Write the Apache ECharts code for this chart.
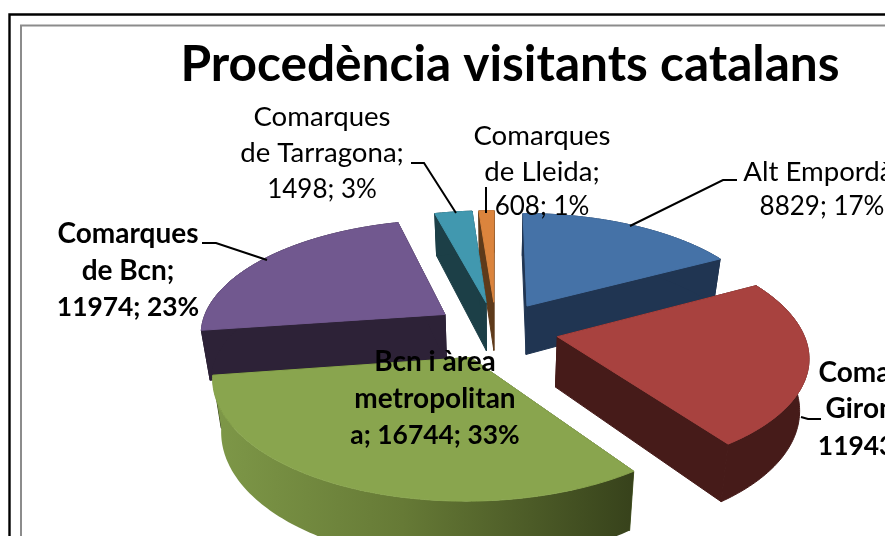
<!DOCTYPE html>
<html><head><meta charset="utf-8">
<style>html,body{margin:0;padding:0;background:#fff}#c{width:885px;height:536px}</style>
<script src="https://cdn.jsdelivr.net/npm/echarts@6/dist/echarts.min.js"></script>
</head><body><div id="c"></div>
<script>
const categories = ['Alt Empordà','Comarques Girona','Bcn i àrea metropolitana','Comarques de Bcn','Comarques de Tarragona','Comarques de Lleida'];
const values = [8829,11943,16744,11974,1498,608];
const percents = [17,23,33,23,3,1];
const labelLines = [
  ['Alt Empordà;','8829; 17%'],
  ['Comarques','Girona;','11943; 23%'],
  ['Bcn i àrea','metropolitan','a; 16744; 33%'],
  ['Comarques','de Bcn;','11974; 23%'],
  ['Comarques','de Tarragona;','1498; 3%'],
  ['Comarques','de Lleida;','608; 1%']
];
const titleText = 'Procedència visitants catalans';

// Styling and layout of the 3D look
const topColors  = ['#4572A7','#A8423F','#89A54E','#71588F','#4198AF','#DB843D'];
const sideColors = ['#203552','#461B19','#4a5a28','#2D2237','#1C3F47','#5E3A1A'];
const drawOrder = [5,4,0,3,1,2];
const boldLabel = [false,true,true,true,false,false];
const labelPos = [
  {x:[822,822],y:[172,207]},
  {x:[889,871,889],y:[373,409,446]},
  {x:[435,435,435],y:[362,399,435]},
  {x:[128,128,128],y:[234,271,307]},
  {x:[322,322,322],y:[117,153,190]},
  {x:[542,542,542],y:[136,172,207]}
];
const leaders = [
  [[737,180],[723,180],[630,226]],
  [[821,419],[808,419],[801,417]],
  null,
  [[202,243],[216,243],[267,260]],
  [[411,163],[424,163],[456,213]],
  [[486,187],[486,213]]
];
const CX=496, CY=330, A=245, B=113, P=0.15, DEPTH=50, SHRINK=0.97, EXPLODE=0.255;
const total = values.reduce((a,b)=>a+b,0);

function project(X,Y,down){
  const s=1/(1-P*Y);
  let x=CX+A*X*s, y=CY+B*Y*s;
  if(down){ x=CX+(x-CX)*SHRINK; y+=DEPTH*s; }
  return [x,y];
}
function sliceAngles(i){
  let before=0; for(let k=0;k<i;k++) before+=values[k];
  return [before/total*Math.PI*2,(before+values[i])/total*Math.PI*2];
}
function renderSlice(params,api){
  const i=api.value(0);
  const [a0,a1]=sliceAngles(i);
  const mid=(a0+a1)/2;
  const ox=Math.sin(mid)*EXPLODE, oy=-Math.cos(mid)*EXPLODE;
  const pt=(t,down)=>project(ox+Math.sin(t),oy-Math.cos(t),down);
  const apexT=project(ox,oy,false), apexB=project(ox,oy,true);
  const n=Math.max(4,Math.ceil((a1-a0)/(Math.PI/180)));
  const arcT=[],arcB=[];
  for(let k=0;k<=n;k++){const t=a0+(a1-a0)*k/n;arcT.push(pt(t,false));arcB.push(pt(t,true));}
  const side=sideColors[i];
  let outerFill=side;
  if(i===2){
    outerFill=new echarts.graphic.LinearGradient(0,0,1,0,[
      {offset:0,color:'#7E9848'},{offset:0.45,color:'#667A36'},{offset:1,color:'#37421B'}]);
  }
  const poly=(points,fill,stroke)=>({type:'polygon',shape:{points},
    style:stroke?{fill,stroke,lineWidth:1}:{fill}});
  const radial=i===2?'#37421B':side;
  return {type:'group',children:[
    poly([apexT,arcT[0],arcB[0],apexB],side,side),
    poly([apexT,arcT[n],arcB[n],apexB],radial,radial),
    poly(arcT.concat(arcB.slice().reverse()),outerFill,i===2?null:side),
    poly([apexT].concat(arcT),topColors[i],topColors[i])
  ]};
}
function renderLabel(params,api){
  const i=api.value(0);
  const kids=[];
  if(leaders[i]) kids.push({type:'polyline',shape:{points:leaders[i]},style:{stroke:'#000',lineWidth:2,fill:null}});
  labelLines[i].forEach((t,l)=>{
    const hasNum=/[0-9]/.test(t);
    const font=boldLabel[i]?('bold '+(hasNum?'26.4px':'28px')+' Lato'):((hasNum?'26px':'27.6px')+' Lato');
    kids.push({type:'text',style:{text:t,x:labelPos[i].x[l],y:labelPos[i].y[l],align:'center',verticalAlign:'middle',font,fill:'#000'}});
  });
  return {type:'group',children:kids};
}
const chart=echarts.init(document.getElementById('c'),null,{renderer:'canvas'});
chart.setOption({
  animation:false,
  backgroundColor:'#fff',
  title:{text:titleText,left:505,top:60,textAlign:'center',textVerticalAlign:'middle',
    textStyle:{fontFamily:'Lato',fontWeight:'bold',fontSize:49.6,color:'#000'}},
  graphic:[
    {type:'rect',shape:{x:9.5,y:14.5,width:1200,height:1000},style:{fill:null,stroke:'#000',lineWidth:2.4},silent:true},
    {type:'rect',shape:{x:21,y:25.5,width:1200,height:1000},style:{fill:null,stroke:'#8c8c8c',lineWidth:2},silent:true}
  ],
  series:[
    {type:'custom',coordinateSystem:'none',silent:true,z:2,renderItem:renderSlice,
     data:drawOrder.map(i=>({name:categories[i],value:[i,values[i],percents[i]]}))},
    {type:'custom',coordinateSystem:'none',silent:true,z:5,renderItem:renderLabel,
     data:categories.map((c,i)=>({name:c,value:[i,values[i],percents[i]]}))}
  ]
});
</script></body></html>
